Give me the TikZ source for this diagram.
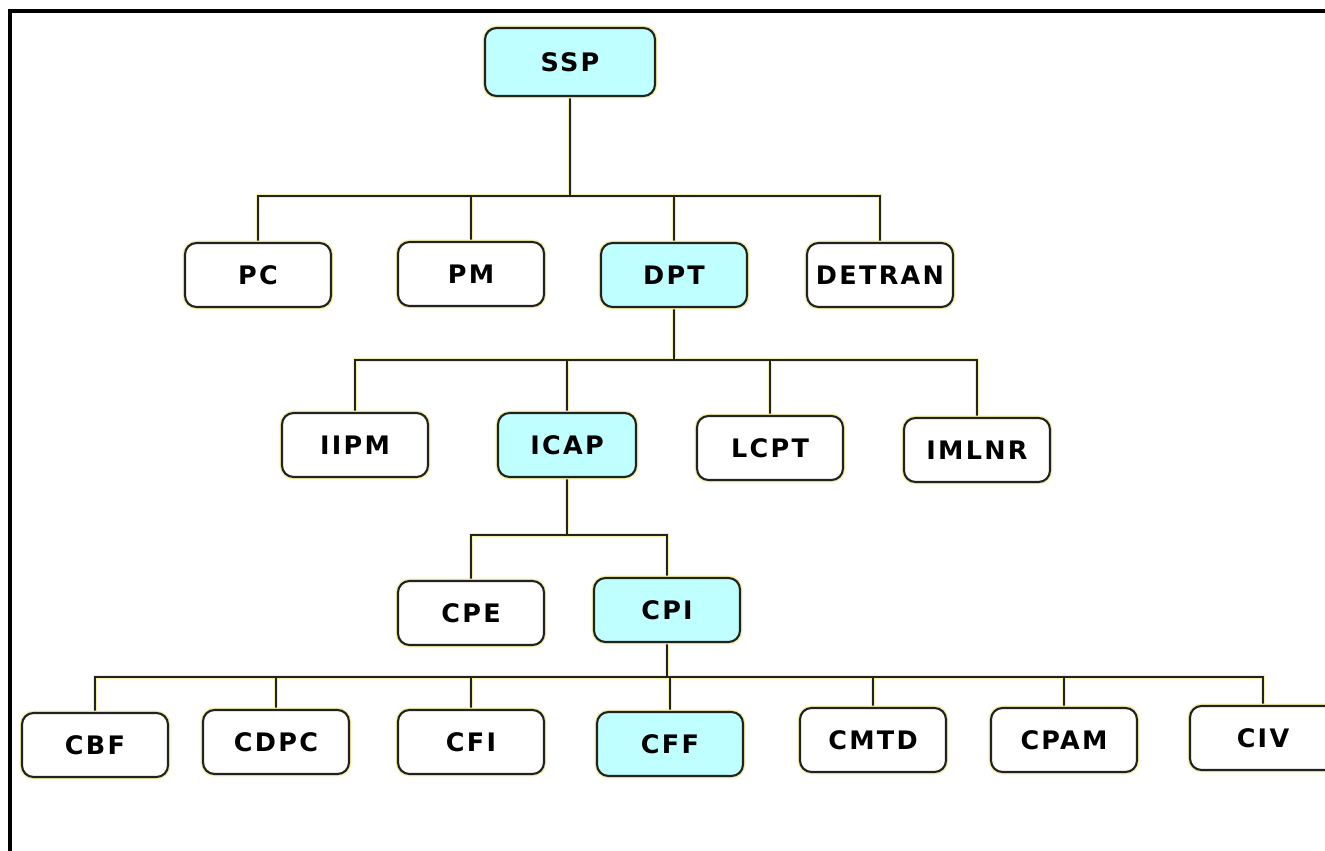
\documentclass[tikz,border=0pt]{standalone}
\usepackage{fontspec}
\newfontfamily\orgfont[LetterSpace=9]{DejaVu Sans}
\usetikzlibrary{positioning, backgrounds}
\definecolor{ccyan}{HTML}{C0FFFF}
\definecolor{chalo}{HTML}{F4F2A8}
\definecolor{cline}{HTML}{222222}
\tikzset{
  every picture/.style={x=0.02cm, y=-0.02cm},
  unit/.style={draw=cline, line width=1.2pt, fill=#1, rounded corners=6.5pt,
    minimum width=2.92cm, minimum height=1.28cm, inner sep=0pt,
    font=\orgfont\bfseries\fontsize{14.5}{16}\selectfont,
    preaction={draw=chalo, line width=2.8pt}},
  unit/.default=white,
  wire/.style={draw=cline, line width=1.2pt, preaction={draw=chalo, line width=2.8pt}},
  frame/.style={draw=black, line width=0.08cm},
}
\begin{document}
\begin{tikzpicture}
  \useasboundingbox (0,0) rectangle (1325,851);
  \draw[frame] (10,870) -- (10,11) -- (1340,11);
  % top level
  \node[unit=ccyan, minimum width=3.4cm, minimum height=1.36cm] (ssp) at (570,62) {SSP};
  % second level
  \node[unit] (pc) at (258,275) {PC};
  \node[unit] (pm) at (471,274) {PM};
  \node[unit=ccyan] (dpt) at (674,275) {DPT};
  \node[unit] (detran) at (880,275) {DETRAN};
  % third level
  \node[unit] (iipm) at (355,445) {IIPM};
  \node[unit=ccyan, minimum width=2.76cm] (icap) at (567,445) {ICAP};
  \node[unit] (lcpt) at (770,448) {LCPT};
  \node[unit] (imlnr) at (977,450) {IMLNR};
  % fourth level
  \node[unit] (cpe) at (471,613) {CPE};
  \node[unit=ccyan] (cpi) at (667,610) {CPI};
  % fifth level
  \node[unit] (cbf) at (95,745) {CBF};
  \node[unit] (cdpc) at (276,742) {CDPC};
  \node[unit] (cfi) at (471,742) {CFI};
  \node[unit=ccyan] (cff) at (670,744) {CFF};
  \node[unit] (cmtd) at (873,740) {CMTD};
  \node[unit] (cpam) at (1064,740) {CPAM};
  \node[unit] (civ) at (1263,738) {CIV};
  % bus points
  \coordinate (busa) at (570,196);
  \coordinate (busb) at (674,360);
  \coordinate (busc) at (567,535);
  \coordinate (busd) at (667,677);
  % connectors
  \begin{scope}[on background layer]
    \draw[wire] (ssp) -- (busa) (busa) -| (pc) (busa) -| (pm)
      (busa) -| (dpt) (busa) -| (detran);
    \draw[wire] (dpt) -- (busb) (busb) -| (iipm) (busb) -| (icap)
      (busb) -| (lcpt) (busb) -| (imlnr);
    \draw[wire] (icap) -- (busc) (busc) -| (cpe) (busc) -| (cpi);
    \draw[wire] (cpi) -- (busd) (busd) -| (cbf) (busd) -| (cdpc)
      (busd) -| (cfi) (busd) -| (cff) (busd) -| (cmtd)
      (busd) -| (cpam) (busd) -| (civ);
  \end{scope}
\end{tikzpicture}
\end{document}
